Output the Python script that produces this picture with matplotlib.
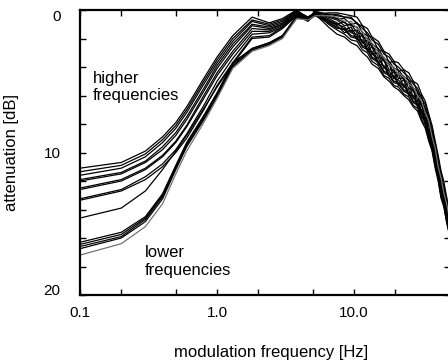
import matplotlib
matplotlib.use("Agg")
import matplotlib.pyplot as plt
from matplotlib.ticker import NullLocator

plt.rcParams['font.family'] = ['Liberation Sans', 'DejaVu Sans']

# modulation frequency (Hz): low part and high (roll-off) part
freq_lo = [0.1, 0.2, 0.3, 0.4, 0.5, 0.6, 0.8, 1.0, 1.3, 1.8, 2.4, 3.0, 3.8, 4.6, 5.2, 6.5]
freq_hi = [7.5, 8.5, 9.5, 10.5, 11.5, 12.5, 13.5, 15, 16.5, 18, 19.5, 21, 23, 25, 27,
           29, 31, 33, 35, 37, 39, 41, 43, 45, 47, 50]

# attenuation (dB) for each carrier, higher carrier frequencies first
c1_lo = [11.1, 10.7, 9.9, 8.9, 7.9, 6.8, 4.8, 3.3, 1.8, 0.5, 0.9, 0.6, 0.0, 0.6, 0.1, 0.3]
c1_hi = [0.4, 0.5, 0.5, 1.0, 1.1, 1.8, 1.9, 2.8, 2.9, 3.7, 3.6, 4.3, 4.2, 5.0, 5.0, 5.8,
         6.0, 7.0, 7.4, 8.7, 9.3, 10.8, 11.4, 12.6, 13.1, 14.8]
c2_lo = [11.35, 10.9, 10.1, 9.1, 8.1, 7.0, 5.0, 3.5, 2.0, 0.7, 1.0, 0.7, 0.05, 0.5, 0.2, 0.8]
c2_hi = [1.1, 1.6, 1.4, 2.1, 2.1, 2.9, 2.9, 3.8, 3.9, 4.7, 4.6, 5.3, 5.2, 6.0, 6.0, 6.8,
         7.0, 8.0, 8.4, 9.7, 10.3, 11.8, 12.4, 13.6, 14.1, 15.7]
c3_lo = [11.6, 11.1, 10.3, 9.3, 8.3, 7.2, 5.2, 3.7, 2.2, 0.8, 1.1, 0.8, 0.1, 0.6, 0.1, 0.4]
c3_hi = [0.6, 0.9, 1.1, 1.2, 1.9, 2.0, 2.6, 2.9, 3.6, 3.8, 4.4, 4.4, 4.9, 5.1, 5.7, 5.9,
         6.7, 7.1, 8.1, 8.8, 10.0, 10.9, 12.1, 12.7, 13.8, 14.9]
c4_lo = [11.9, 11.4, 10.6, 9.6, 8.6, 7.5, 5.5, 3.9, 2.4, 1.0, 1.2, 0.9, 0.1, 0.5, 0.2, 1.0]
c4_hi = [1.4, 1.7, 2.1, 2.2, 2.8, 3.0, 3.6, 3.9, 4.6, 4.8, 5.3, 5.4, 5.9, 6.1, 6.7, 6.9,
         7.7, 8.1, 9.1, 9.8, 11.0, 11.9, 13.1, 13.6, 14.7, 15.9]
c5_lo = [12.0, 11.5, 10.7, 9.8, 8.8, 7.7, 5.7, 4.1, 2.6, 1.1, 1.3, 1.0, 0.2, 0.7, 0.3, 0.7]
c5_hi = [1.0, 0.8, 1.5, 1.4, 2.3, 2.1, 3.1, 3.0, 4.1, 3.8, 4.8, 4.5, 5.4, 5.1, 6.2, 5.9,
         7.2, 7.1, 8.6, 8.8, 10.5, 10.9, 12.6, 12.7, 14.3, 15.0]
c6_lo = [12.5, 11.9, 11.1, 10.2, 9.2, 8.1, 6.0, 4.4, 2.9, 1.3, 1.4, 1.0, 0.2, 0.6, 0.3, 0.2]
c6_hi = [0.2, 0.3, 0.4, 0.5, 1.1, 1.3, 1.9, 2.2, 2.9, 3.1, 3.6, 3.7, 4.2, 4.4, 5.0, 5.2,
         5.9, 6.4, 7.3, 8.1, 9.2, 10.2, 11.3, 12.0, 13.0, 14.4]
c7_lo = [12.6, 12.0, 11.2, 10.3, 9.3, 8.2, 6.2, 4.6, 3.1, 1.5, 1.5, 1.1, 0.3, 0.7, 0.4, 0.9]
c7_hi = [1.3, 1.3, 1.8, 1.9, 2.5, 2.7, 3.3, 3.6, 4.3, 4.5, 5.0, 5.1, 5.6, 5.8, 6.4, 6.6,
         7.4, 7.8, 8.8, 9.5, 10.7, 11.6, 12.8, 13.4, 14.5, 15.6]
c8_lo = [13.25, 12.6, 11.7, 10.8, 9.8, 8.7, 6.7, 5.0, 3.4, 1.7, 1.6, 1.2, 0.3, 0.6, 0.3, 0.6]
c8_hi = [0.9, 1.4, 1.2, 1.9, 1.8, 2.8, 2.6, 3.7, 3.5, 4.6, 4.3, 5.2, 4.9, 5.9, 5.6, 6.7,
         6.6, 7.9, 8.0, 9.6, 9.9, 11.7, 12.0, 13.5, 13.7, 15.5]
c9_lo = [13.35, 12.7, 11.9, 11.0, 10.0, 9.0, 7.0, 5.3, 3.7, 1.9, 1.8, 1.2, 0.4, 0.7, 0.4, 0.4]
c9_hi = [0.6, 0.6, 1.0, 0.9, 1.6, 1.8, 2.4, 2.7, 3.4, 3.6, 4.1, 4.2, 4.7, 4.9, 5.5, 5.7,
         6.5, 6.9, 7.9, 8.6, 9.8, 10.7, 11.9, 12.5, 13.6, 14.7]
c10_lo = [14.6, 13.9, 12.7, 11.2, 9.9, 8.8, 6.9, 5.4, 3.8, 2.0, 1.9, 1.3, 0.4, 0.8, 0.3, 1.2]
c10_hi = [1.7, 1.9, 2.3, 2.5, 3.0, 3.3, 3.8, 4.1, 4.7, 5.0, 5.4, 5.6, 6.0, 6.3, 6.8, 7.1,
          7.8, 8.3, 9.2, 9.9, 11.1, 12.0, 13.2, 13.8, 14.8, 16.0]
c11_lo = [16.3, 15.6, 14.5, 12.9, 10.9, 9.3, 7.4, 5.8, 3.7, 2.7, 2.3, 1.8, 0.4, 0.5, 0.2, 0.3]
c11_hi = [0.3, 0.5, 0.6, 0.9, 1.3, 1.6, 2.1, 2.4, 3.1, 3.3, 3.8, 4.0, 4.4, 4.7, 5.2, 5.5,
          6.2, 6.6, 7.6, 8.3, 9.5, 10.4, 11.6, 12.3, 13.3, 14.5]
c12_lo = [16.45, 15.75, 14.6, 13.0, 11.0, 9.4, 7.5, 5.9, 3.8, 2.7, 2.3, 1.8, 0.5, 0.6, 0.3, 0.8]
c12_hi = [1.0, 1.2, 1.6, 1.7, 2.3, 2.5, 3.1, 3.4, 4.0, 4.3, 4.8, 4.9, 5.4, 5.6, 6.2, 6.4,
          7.2, 7.6, 8.6, 9.3, 10.5, 11.4, 12.6, 13.2, 14.3, 15.4]
c13_lo = [16.6, 15.9, 14.7, 13.1, 11.1, 9.5, 7.6, 6.0, 3.9, 2.8, 2.4, 1.9, 0.5, 0.5, 0.2, 0.5]
c13_hi = [0.7, 1.1, 1.0, 1.6, 1.7, 2.4, 2.5, 3.3, 3.5, 4.2, 4.2, 4.8, 4.8, 5.5, 5.6, 6.3,
          6.6, 7.5, 8.0, 9.2, 9.9, 11.3, 12.0, 13.1, 13.7, 15.1]
c14_lo = [16.75, 16.0, 14.85, 13.25, 11.2, 9.6, 7.7, 6.1, 4.0, 2.8, 2.4, 1.9, 0.6, 0.6, 0.3, 0.9]
c14_hi = [1.2, 1.4, 1.9, 2.0, 2.6, 2.8, 3.4, 3.7, 4.4, 4.6, 5.1, 5.2, 5.7, 5.9, 6.5, 6.7,
          7.5, 7.9, 8.9, 9.6, 10.8, 11.7, 12.9, 13.5, 14.6, 15.7]
c15_lo = [17.2, 16.4, 15.2, 13.6, 11.5, 9.9, 7.9, 6.2, 4.1, 2.9, 2.5, 2.0, 0.6, 0.7, 0.4, 0.4]
c15_hi = [0.5, 0.8, 0.8, 1.3, 1.5, 2.1, 2.3, 3.0, 3.3, 3.9, 4.0, 4.5, 4.6, 5.2, 5.4, 6.0,
          6.4, 7.2, 7.8, 8.9, 9.7, 11.0, 11.8, 12.8, 13.5, 14.8]

curves = [(c1_lo, c1_hi), (c2_lo, c2_hi), (c3_lo, c3_hi), (c4_lo, c4_hi),
          (c5_lo, c5_hi), (c6_lo, c6_hi), (c7_lo, c7_hi), (c8_lo, c8_hi),
          (c9_lo, c9_hi), (c10_lo, c10_hi), (c11_lo, c11_hi), (c12_lo, c12_hi),
          (c13_lo, c13_hi), (c14_lo, c14_hi), (c15_lo, c15_hi)]

xticks = [0.1, 0.2, 0.5, 1, 2, 5, 10, 20]
xticklabels = ['0.1', '', '', '1.0', '', '', '10.0', '']
yticks = list(range(0, 21, 2))
yticklabels = ['0', '', '', '', '', '10', '', '', '', '', '20']

fig = plt.figure(figsize=(4.48, 3.6), dpi=100)
ax = fig.add_axes([80/448, 65/360, 370/448, 285/360])

freq = freq_lo + freq_hi
for i, (lo, hi) in enumerate(curves):
    col = '0.45' if i == len(curves) - 1 else 'black'
    ax.plot(freq, lo + hi, color=col, lw=0.9)

ax.set_xscale('log')
ax.set_xlim(0.1, 50)
ax.set_ylim(20, 0)
ax.set_xticks(xticks)
ax.set_xticklabels(xticklabels)
ax.xaxis.set_minor_locator(NullLocator())
ax.set_yticks(yticks)
ax.set_yticklabels(yticklabels)
ax.tick_params(direction='in', top=True, right=True, length=4, width=1,
               labelsize=11)
ax.tick_params(axis='x', pad=8)
ax.tick_params(axis='y', pad=14)
ylabs = ax.get_yticklabels()
ylabs[0].set_va('top')
ylabs[-1].set_va('baseline')
for s in ax.spines.values():
    s.set_linewidth(1.6)

ax.text(0.124, 5.4, 'higher\nfrequencies', fontsize=12, va='center',
        linespacing=1.2)
ax.text(0.298, 17.65, 'lower\nfrequencies', fontsize=12, va='center',
        linespacing=1.2)

ax.set_ylabel('attenuation [dB]', fontsize=12)
ax.yaxis.set_label_coords(-0.165, 0.5)
fig.text(271/448, 1 - 352/360, 'modulation frequency [Hz]', fontsize=12,
         ha='center', va='center')

fig.savefig('out.png', dpi=100)
